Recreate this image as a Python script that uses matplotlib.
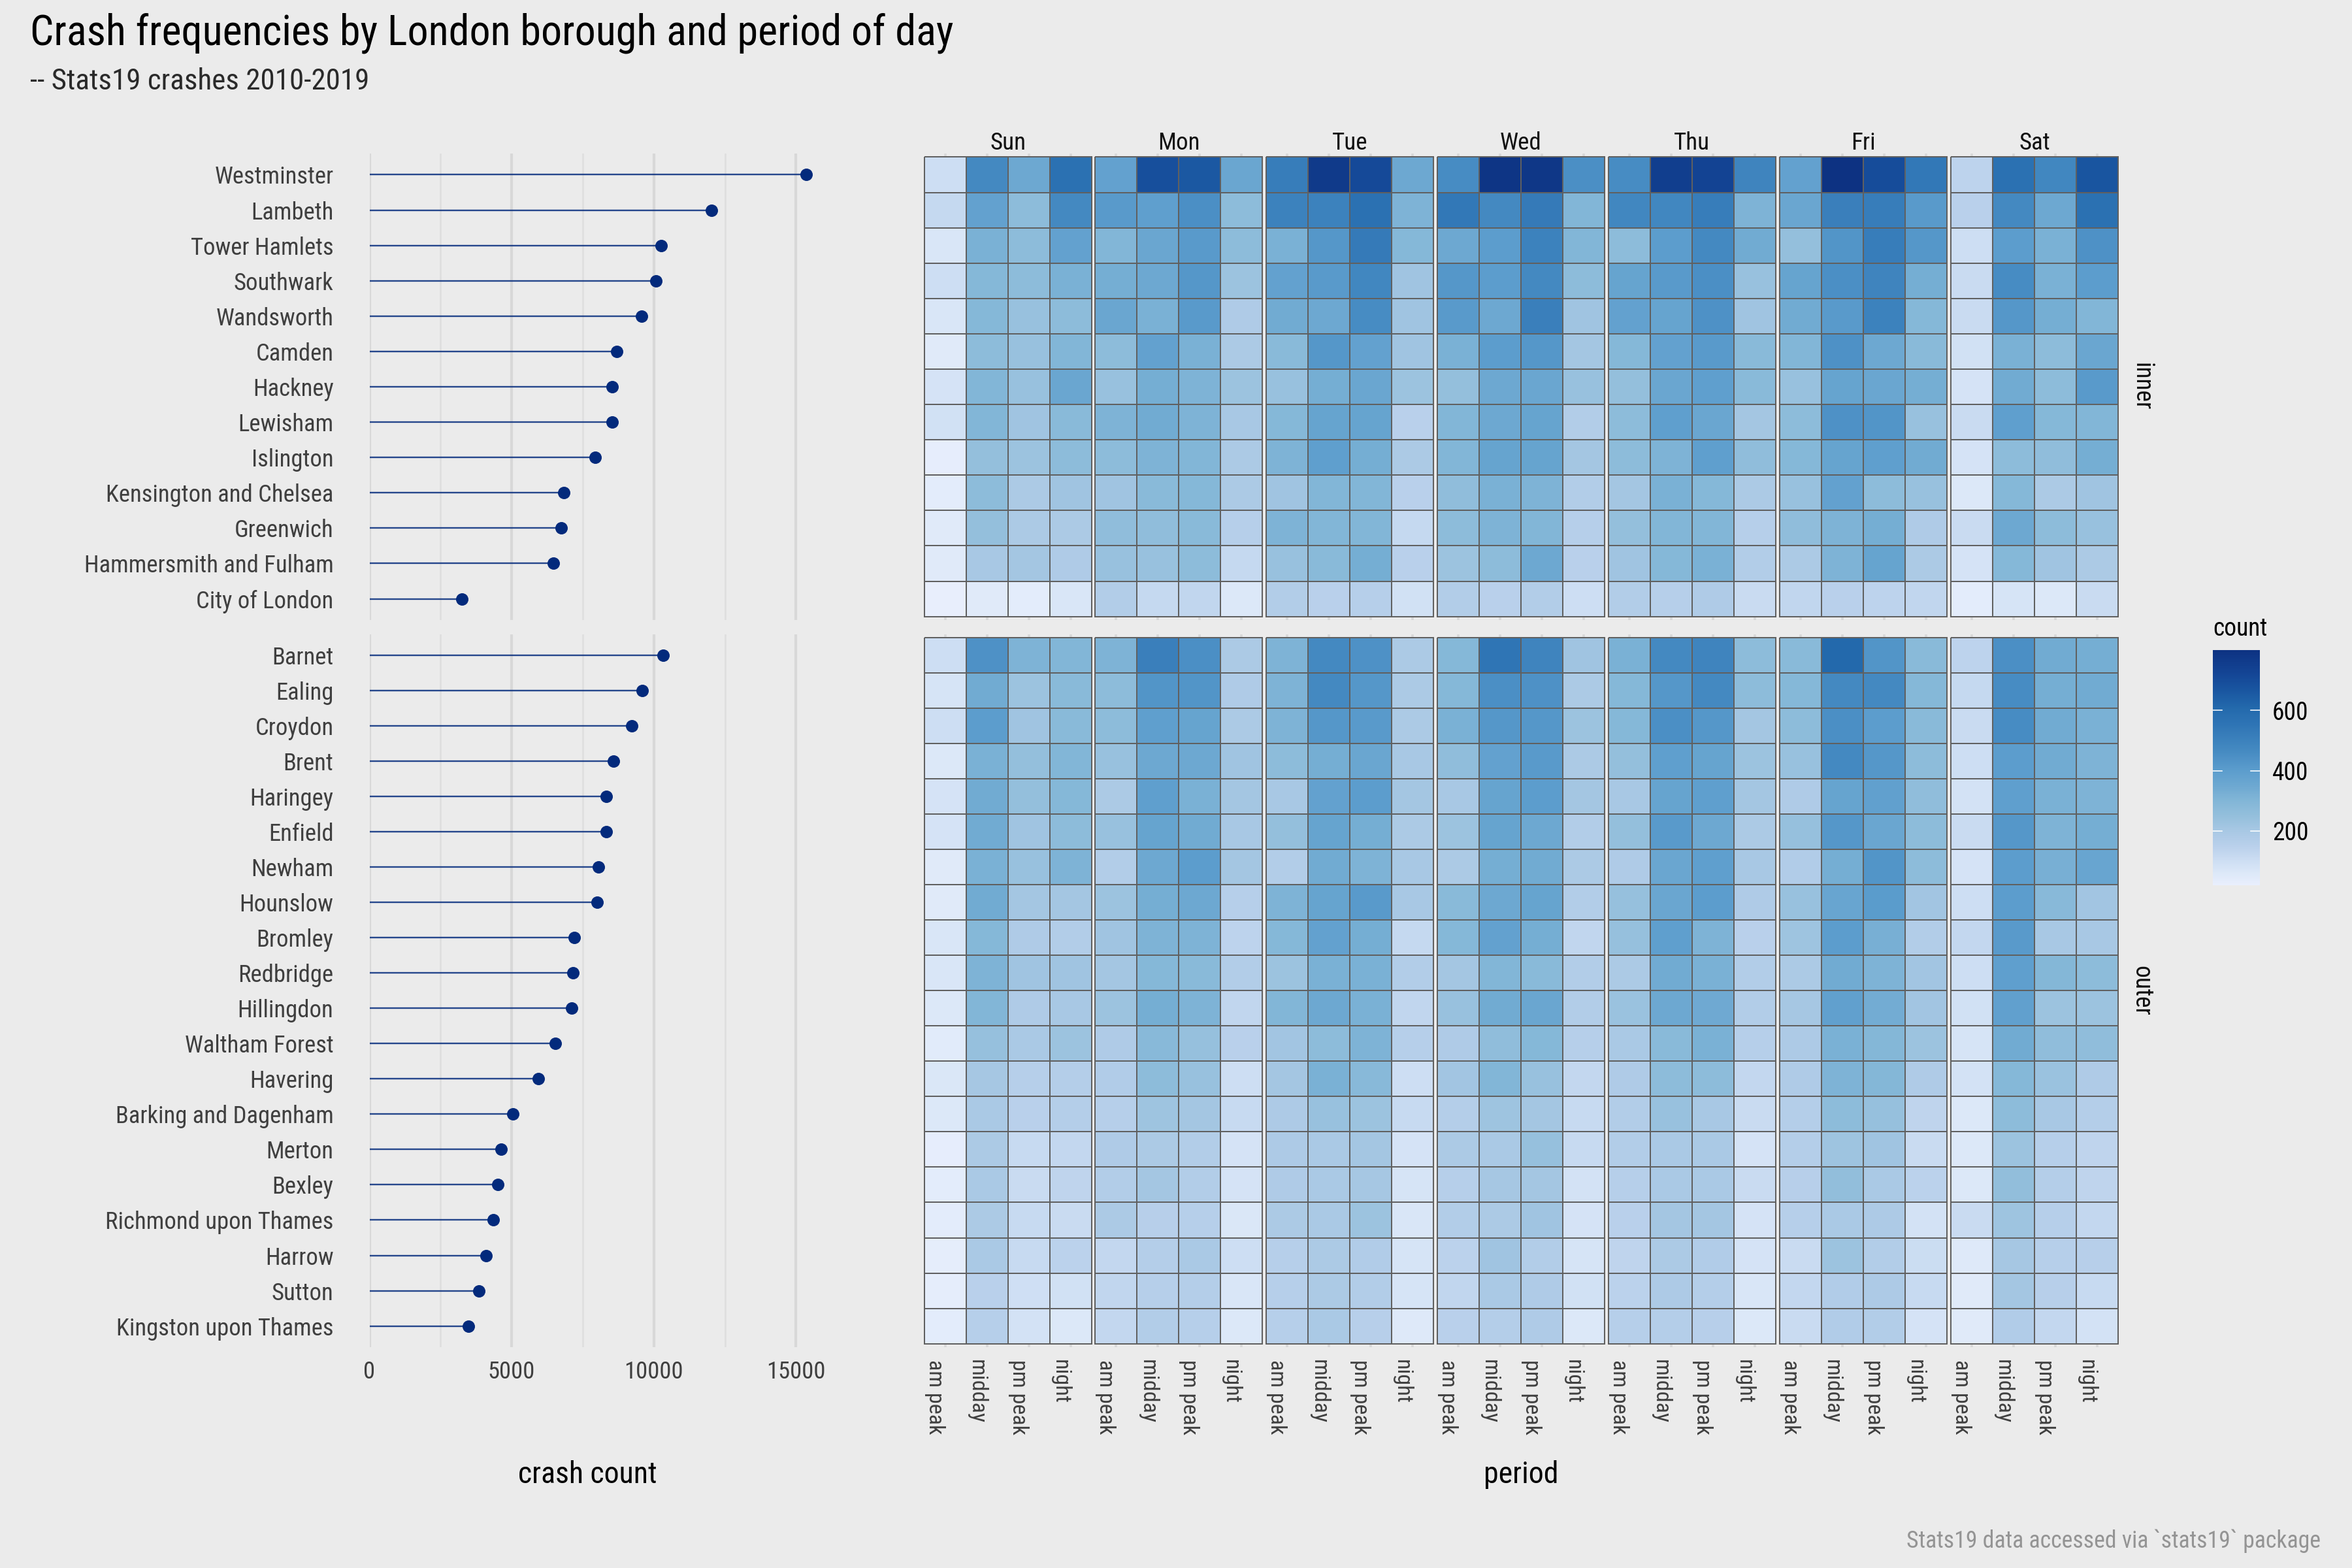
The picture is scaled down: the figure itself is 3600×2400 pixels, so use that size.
import matplotlib
matplotlib.use("Agg")
import logging
logging.getLogger("matplotlib.font_manager").setLevel(logging.ERROR)
import numpy as np
import matplotlib.pyplot as plt
from matplotlib.colors import LinearSegmentedColormap, Normalize
from matplotlib.cm import ScalarMappable

plt.rcParams['font.family'] = ['Roboto Condensed', 'Roboto', 'DejaVu Sans']

days = ["Sun", "Mon", "Tue", "Wed", "Thu", "Fri", "Sat"]
periods = ["am peak", "midday", "pm peak", "night"]

inner_boroughs = ["Westminster", "Lambeth", "Tower Hamlets", "Southwark", "Wandsworth", "Camden", "Hackney",
                  "Lewisham", "Islington", "Kensington and Chelsea", "Greenwich", "Hammersmith and Fulham",
                  "City of London"]
inner_totals = [15370, 12030, 10250, 10070, 9570, 8690, 8530, 8530, 7950, 6840, 6740, 6470, 3250]

outer_boroughs = ["Barnet", "Ealing", "Croydon", "Brent", "Haringey", "Enfield", "Newham", "Hounslow", "Bromley",
                  "Redbridge", "Hillingdon", "Waltham Forest", "Havering", "Barking and Dagenham", "Merton",
                  "Bexley", "Richmond upon Thames", "Harrow", "Sutton", "Kingston upon Thames"]
outer_totals = [10320, 9590, 9220, 8580, 8320, 8320, 8050, 8000, 7210, 7160, 7110, 6530, 5950, 5050, 4630, 4520,
                4360, 4100, 3840, 3470]

# one row per borough: Sun am..night, Mon am..night, ... Sat am..night
inner_counts = [
    [100, 470, 350, 570, 380, 690, 660, 360, 520, 770, 710, 350, 460, 790, 780, 450, 460, 750, 730, 490, 380, 800, 700, 540, 140, 570, 480, 670],
    [120, 380, 270, 470, 410, 390, 450, 270, 500, 500, 570, 310, 540, 470, 530, 300, 480, 480, 520, 310, 360, 510, 520, 410, 150, 470, 350, 570],
    [70, 320, 270, 380, 300, 360, 410, 270, 320, 420, 530, 290, 350, 400, 500, 300, 270, 400, 470, 340, 250, 430, 520, 420, 100, 400, 320, 440],
    [100, 290, 270, 320, 330, 350, 420, 230, 380, 410, 480, 220, 420, 400, 470, 270, 370, 410, 450, 240, 370, 450, 490, 330, 110, 460, 320, 400],
    [70, 290, 240, 270, 360, 320, 410, 180, 340, 350, 460, 220, 410, 350, 510, 220, 380, 370, 440, 220, 340, 410, 500, 290, 110, 420, 330, 300],
    [50, 270, 240, 300, 270, 380, 320, 190, 280, 420, 380, 220, 320, 400, 420, 210, 290, 380, 410, 280, 300, 440, 350, 280, 90, 320, 270, 360],
    [80, 300, 240, 360, 240, 330, 310, 230, 240, 330, 360, 230, 250, 350, 360, 240, 250, 360, 390, 280, 240, 370, 360, 330, 80, 340, 270, 410],
    [90, 300, 220, 280, 310, 340, 310, 200, 290, 370, 370, 150, 300, 350, 370, 170, 270, 390, 360, 210, 270, 440, 430, 240, 110, 390, 290, 300],
    [30, 250, 230, 270, 270, 310, 300, 190, 310, 390, 330, 190, 300, 370, 370, 210, 270, 310, 390, 260, 290, 370, 390, 340, 80, 270, 260, 330],
    [40, 270, 190, 220, 220, 280, 290, 190, 220, 300, 300, 150, 260, 320, 310, 170, 210, 320, 290, 190, 240, 380, 270, 240, 60, 290, 190, 220],
    [50, 250, 190, 190, 260, 260, 280, 160, 310, 300, 300, 120, 270, 310, 300, 160, 250, 300, 300, 160, 260, 310, 330, 180, 110, 350, 270, 240],
    [50, 200, 210, 180, 240, 240, 270, 120, 240, 280, 330, 150, 230, 270, 350, 150, 220, 290, 320, 170, 190, 310, 370, 190, 80, 290, 220, 190],
    [25, 50, 40, 70, 170, 120, 130, 60, 170, 150, 160, 90, 170, 150, 170, 100, 170, 160, 180, 110, 130, 150, 140, 130, 40, 75, 60, 110],
]
outer_counts = [
    [100, 440, 310, 300, 310, 510, 450, 190, 310, 470, 440, 190, 290, 550, 490, 220, 320, 470, 490, 270, 280, 610, 430, 280, 140, 450, 340, 330],
    [75, 340, 230, 280, 270, 430, 430, 180, 310, 470, 420, 190, 290, 450, 440, 190, 290, 420, 470, 270, 290, 470, 470, 290, 120, 460, 330, 340],
    [100, 400, 220, 280, 270, 390, 370, 190, 310, 420, 410, 190, 320, 420, 420, 230, 290, 450, 420, 210, 270, 450, 400, 280, 110, 460, 340, 320],
    [60, 320, 250, 300, 240, 350, 350, 220, 270, 330, 360, 200, 260, 380, 410, 190, 250, 390, 370, 230, 240, 470, 420, 270, 100, 400, 340, 310],
    [80, 340, 250, 290, 190, 390, 320, 210, 200, 380, 400, 210, 200, 370, 400, 210, 200, 370, 390, 210, 180, 370, 385, 260, 85, 390, 320, 310],
    [80, 340, 220, 270, 240, 370, 340, 200, 250, 370, 330, 190, 230, 370, 350, 170, 250, 410, 350, 190, 245, 420, 360, 270, 110, 420, 310, 330],
    [50, 320, 240, 310, 170, 350, 400, 210, 170, 340, 310, 200, 190, 330, 340, 190, 180, 360, 390, 200, 175, 330, 430, 270, 80, 400, 325, 365],
    [50, 340, 210, 210, 230, 330, 350, 160, 310, 370, 410, 200, 280, 350, 370, 170, 245, 360, 400, 180, 240, 365, 405, 215, 100, 400, 285, 215],
    [70, 290, 180, 170, 220, 310, 310, 140, 290, 380, 330, 120, 290, 380, 330, 130, 245, 390, 310, 150, 225, 400, 325, 170, 125, 410, 200, 200],
    [70, 310, 220, 220, 210, 290, 280, 170, 230, 320, 320, 170, 210, 300, 280, 170, 190, 340, 320, 170, 190, 340, 310, 215, 100, 390, 295, 270],
    [60, 300, 180, 200, 230, 330, 310, 130, 300, 350, 320, 130, 240, 340, 360, 170, 235, 350, 345, 170, 205, 385, 335, 215, 90, 385, 230, 230],
    [45, 245, 195, 230, 180, 285, 245, 150, 215, 270, 310, 160, 180, 260, 290, 160, 195, 280, 320, 160, 185, 320, 295, 230, 75, 340, 260, 260],
    [65, 205, 160, 165, 175, 270, 240, 100, 210, 320, 285, 100, 215, 300, 240, 125, 180, 270, 270, 125, 180, 310, 295, 180, 85, 290, 235, 180],
    [60, 195, 150, 165, 160, 225, 210, 115, 185, 240, 230, 115, 165, 225, 210, 115, 170, 240, 200, 110, 165, 270, 245, 135, 60, 270, 200, 165],
    [32, 190, 115, 125, 180, 190, 170, 80, 185, 195, 210, 80, 190, 195, 245, 115, 170, 195, 195, 80, 165, 225, 220, 110, 60, 230, 160, 135],
    [40, 195, 110, 135, 170, 210, 170, 80, 180, 195, 205, 75, 160, 205, 210, 85, 160, 195, 195, 110, 155, 255, 195, 145, 60, 255, 165, 135],
    [40, 190, 115, 110, 190, 155, 160, 65, 190, 195, 230, 70, 170, 190, 220, 80, 150, 210, 210, 80, 160, 195, 185, 85, 110, 225, 160, 125],
    [35, 195, 115, 145, 125, 165, 195, 100, 160, 190, 175, 75, 145, 220, 170, 75, 135, 190, 175, 80, 110, 230, 170, 105, 55, 205, 160, 155],
    [35, 150, 95, 90, 130, 160, 165, 70, 160, 190, 170, 75, 130, 195, 180, 90, 145, 185, 165, 70, 125, 175, 185, 115, 50, 210, 155, 115],
    [40, 160, 85, 60, 125, 170, 160, 60, 160, 195, 155, 55, 150, 165, 180, 60, 160, 165, 155, 60, 110, 175, 170, 80, 50, 175, 125, 85],
]

legend_ticks = [200, 400, 600]
legend_min, legend_max = 20, 801
legend_stops = [(20, "#E9EFFD"), (60, "#DCE8F8"), (100, "#CDDEF3"), (150, "#B9D0EB"), (200, "#A8C8E4"),
                (250, "#94BFDC"), (300, "#82B6D7"), (350, "#6DA8D1"), (400, "#5C9DCD"), (470, "#4489C1"),
                (560, "#2D73B4"), (610, "#2369AC"), (670, "#1955A0"), (720, "#144696"), (801, "#0D3282")]

BG = "#EBEBEB"
W, H = 3600, 2400
fig = plt.figure(figsize=(12, 8), dpi=300, facecolor=BG)
PT = 72 / 300


def axpx(x0, y0, x1, y1):
    return fig.add_axes([x0 / W, 1 - y1 / H, (x1 - x0) / W, (y1 - y0) / H])


def textpx(x, y, s, **kw):
    return fig.text(x / W, 1 - y / H, s, va=kw.pop("va", "baseline"), **kw)


cmap = LinearSegmentedColormap.from_list(
    "count", [((v - legend_min) / (legend_max - legend_min), c) for v, c in legend_stops], N=512)
norm = Normalize(legend_min, legend_max)

GRID = "#D8D8D8"
LBL = "#3F3F3F"
NAVY = "#032A7C"
LOL_X0 = 565.5
PX_PER_UNIT = 217.6 / 5000
heat_x0 = [1414.7, 1676.4, 1938.4, 2200.0, 2462.0, 2724.0, 2986.0]
PANEL_W = 255.8
EXPAND = 0.1
TICK_FS = 8.8
PERIOD_FS = 8.2

groups = [(inner_boroughs, inner_totals, inner_counts, 235.0, 949.0, "inner"),
          (outer_boroughs, outer_totals, outer_counts, 970.6, 2062.0, "outer")]

for g, (names, totals, counts, top, bottom, strip) in enumerate(groups):
    n = len(names)
    is_bottom = g == 1
    ylim = (n - 0.5 + EXPAND, -0.5 - EXPAND)

    ax = axpx(LOL_X0, top, LOL_X0 + max(inner_totals) * PX_PER_UNIT, bottom)
    ax.set_facecolor("none")
    ax.set_xlim(0, max(inner_totals))
    ax.set_ylim(*ylim)
    for s in ax.spines.values():
        s.set_visible(False)
    ypos = np.arange(n)
    ax.hlines(ypos, 0, totals, color=NAVY, lw=2.4 * PT, alpha=0.85, zorder=2)
    ax.plot(totals, ypos, "o", color=NAVY, ms=19 * PT, mew=0, zorder=3, clip_on=False)
    ax.set_yticks(ypos, names)
    for lab in ax.get_yticklabels():
        lab.set_verticalalignment("center_baseline")
    ax.set_xticks([0, 5000, 10000, 15000])
    ax.set_xticks([2500, 7500, 12500], minor=True)
    ax.grid(axis="x", which="major", color=GRID, lw=4.2 * PT, zorder=0)
    ax.grid(axis="x", which="minor", color="#DEDEDE", lw=2.6 * PT, zorder=0)
    ax.set_axisbelow(True)
    ax.tick_params(axis="y", length=0, pad=55 * PT, labelsize=TICK_FS, labelcolor=LBL)
    ax.tick_params(axis="x", which="both", length=0, pad=20 * PT, labelsize=TICK_FS, labelcolor=LBL,
                   labelbottom=is_bottom)

    mat = np.array(counts, dtype=float)
    for d, x0 in enumerate(heat_x0):
        hx = axpx(x0, top, x0 + PANEL_W, bottom)
        hx.set_facecolor("none")
        for s in hx.spines.values():
            s.set_visible(False)
        sub = mat[:, d * 4:d * 4 + 4]
        hx.pcolormesh(np.arange(5) - 0.5, np.arange(n + 1) - 0.5, sub, cmap=cmap, norm=norm,
                      edgecolors="#606060", linewidth=2.0 * PT, clip_on=False, zorder=2)
        hx.set_xlim(-0.5, 3.5)
        hx.set_ylim(*ylim)
        hx.set_yticks([])
        hx.set_xticks(range(4))
        hx.grid(axis="x", color=GRID, lw=3.6 * PT, zorder=0)
        hx.set_axisbelow(True)
        hx.tick_params(axis="x", length=0, pad=19 * PT, labelsize=PERIOD_FS, labelcolor=LBL, labelbottom=is_bottom)
        if is_bottom:
            hx.set_xticklabels(periods, rotation=-90, ha="right", va="top")
        else:
            textpx(x0 + PANEL_W / 2, 228.8, days[d], ha="center", fontsize=8.9, color="#111111")
    textpx(3278, (top + bottom) / 2, strip, ha="center", va="center", rotation=-90, fontsize=9.0, color="#111111")

# legend
cax = axpx(3387, 994.7, 3459, 1355)
cb = fig.colorbar(ScalarMappable(norm=norm, cmap=cmap), cax=cax, ticks=legend_ticks)
cb.outline.set_visible(False)
cb.ax.tick_params(length=0, pad=19 * PT, labelsize=9.0, labelcolor="#000000")
for v in legend_ticks:
    cb.ax.axhline(v, 0, 0.2, color="white", lw=1.6 * PT)
    cb.ax.axhline(v, 0.8, 1, color="white", lw=1.6 * PT)
textpx(3387, 973, "count", ha="left", fontsize=9.0, color="#000000")

textpx(46, 68.3, "Crash frequencies by London borough and period of day", ha="left", fontsize=15.4, color="#000000")
textpx(46, 137, "-- Stats19 crashes 2010-2019", ha="left", fontsize=10.85, color="#2A2A2A")
textpx(3552.5, 2369, "Stats19 data accessed via `stats19` package", ha="right", fontsize=8.6, color="#949494")
textpx(899, 2270, "crash count", ha="center", fontsize=11.0, color="#000000")
textpx(2328, 2270, "period", ha="center", fontsize=11.0, color="#000000")

fig.savefig("out.png", dpi=300, facecolor=BG)
